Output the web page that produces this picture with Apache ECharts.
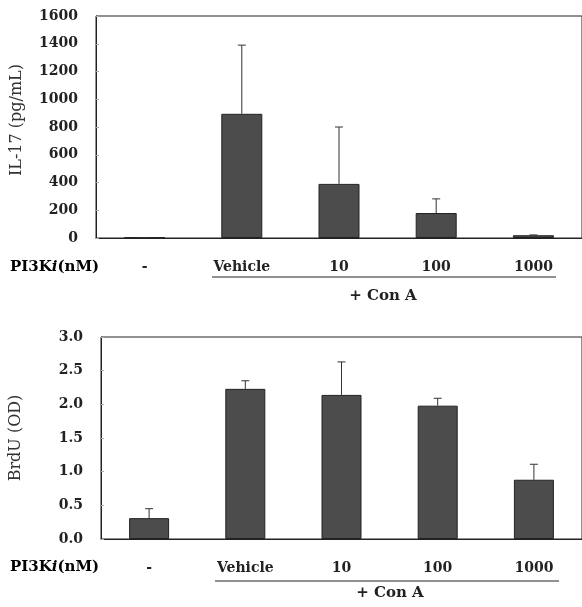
<!DOCTYPE html>
<html>
<head>
<meta charset="utf-8">
<script src="https://cdn.jsdelivr.net/npm/echarts@6/dist/echarts.min.js"></script>
<style>html,body{margin:0;padding:0;background:#fff;}#c{width:582px;height:607px;}</style>
</head>
<body>
<div id="c"></div>
<script>
const categories = ['-', 'Vehicle', '10', '100', '1000'];
const il17Values = [3, 895, 390, 180, 20];
const il17ErrTop = [3, 1390, 800, 282, 22];
const brduValues = [0.31, 2.23, 2.14, 1.98, 0.88];
const brduErrTop = [0.45, 2.35, 2.63, 2.09, 1.11];
const il17Ticks = { min: 0, max: 1600, interval: 200 };
const brduTicks = { min: 0, max: 3, interval: 0.5 };

const FONT = 'DejaVu Serif';
const barColor = '#4c4c4c';

function errSeries(xi, vals, tops) {
  return {
    type: 'custom', xAxisIndex: xi, yAxisIndex: xi, z: 3,
    data: vals.map((v, i) => [i, v, tops[i]]),
    renderItem: function (params, api) {
      const base = api.coord([api.value(0), api.value(1)]);
      const top = api.coord([api.value(0), api.value(2)]);
      const cw = 8;
      return {
        type: 'group',
        children: [
          { type: 'line', shape: { x1: base[0], y1: base[1], x2: top[0], y2: top[1] }, style: { stroke: '#333', lineWidth: 1 } },
          { type: 'line', shape: { x1: top[0] - cw / 2, y1: top[1], x2: top[0] + cw / 2, y2: top[1] }, style: { stroke: '#333', lineWidth: 1 } }
        ]
      };
    }
  };
}

function yAxis(gi, t, fmt) {
  return {
    type: 'value', gridIndex: gi, min: t.min, max: t.max, interval: t.interval,
    axisLine: { show: true, lineStyle: { color: '#222', width: 1 } },
    axisTick: { show: true, inside: true, length: 3, lineStyle: { color: '#aaa' } },
    splitLine: { show: false },
    axisLabel: { fontFamily: FONT, fontWeight: 'bold', fontSize: 14, color: '#222', margin: 18, formatter: fmt }
  };
}
function xAxis(gi) {
  return {
    type: 'category', gridIndex: gi, data: categories,
    axisLine: { show: true, lineStyle: { color: '#222', width: 1 } },
    axisTick: { show: false },
    axisLabel: { fontFamily: FONT, fontWeight: 'bold', fontSize: 14, color: '#222', margin: 22, interval: 0 }
  };
}

const rich = {
  a: { fontFamily: FONT, fontWeight: 'bold', fontSize: 15, color: '#222' },
  b: { fontFamily: FONT, fontWeight: 'bold', fontStyle: 'italic', fontSize: 15, color: '#222' }
};

const chart = echarts.init(document.getElementById('c'));
const option = {
  backgroundColor: '#fff',
  animation: false,
  grid: [
    { left: 96, top: 16, width: 490, height: 222, show: true, borderColor: '#222', borderWidth: 1, backgroundColor: 'transparent' },
    { left: 101, top: 337, width: 495, height: 202, show: true, borderColor: '#222', borderWidth: 1, backgroundColor: 'transparent' }
  ],
  xAxis: [xAxis(0), xAxis(1)],
  yAxis: [
    yAxis(0, il17Ticks, v => String(v)),
    yAxis(1, brduTicks, v => v.toFixed(1))
  ],
  series: [
    { type: 'bar', xAxisIndex: 0, yAxisIndex: 0, data: il17Values, barWidth: 41,
      itemStyle: { color: barColor, borderColor: '#222', borderWidth: 1 } },
    errSeries(0, il17Values, il17ErrTop),
    { type: 'bar', xAxisIndex: 1, yAxisIndex: 1, data: brduValues, barWidth: 40,
      itemStyle: { color: barColor, borderColor: '#222', borderWidth: 1 } },
    errSeries(1, brduValues, brduErrTop)
  ],
  graphic: [
    { type: 'text', rotation: Math.PI / 2, position: [17, 120],
      style: { text: 'IL-17 (pg/mL)', font: '16px "DejaVu Serif"', fill: '#333', align: 'center', verticalAlign: 'middle' } },
    { type: 'text', rotation: Math.PI / 2, position: [16, 438],
      style: { text: 'BrdU (OD)', font: '16px "DejaVu Serif"', fill: '#333', align: 'center', verticalAlign: 'middle' } },
    { type: 'text', position: [10, 267],
      style: { text: '{a|PI3K}{b|i}{a|(nM)}', rich: rich, verticalAlign: 'middle' } },
    { type: 'text', position: [10, 567],
      style: { text: '{a|PI3K}{b|i}{a|(nM)}', rich: rich, verticalAlign: 'middle' } },
    { type: 'line', shape: { x1: 212, y1: 277, x2: 556, y2: 277 }, style: { stroke: '#222', lineWidth: 1 } },
    { type: 'line', shape: { x1: 215, y1: 581, x2: 559, y2: 581 }, style: { stroke: '#222', lineWidth: 1 } },
    { type: 'text', position: [383, 296],
      style: { text: '+ Con A', font: 'bold 15px "DejaVu Serif"', fill: '#222', align: 'center', verticalAlign: 'middle' } },
    { type: 'text', position: [390, 593],
      style: { text: '+ Con A', font: 'bold 15px "DejaVu Serif"', fill: '#222', align: 'center', verticalAlign: 'middle' } }
  ]
};
chart.setOption(option);
</script>
</body>
</html>
